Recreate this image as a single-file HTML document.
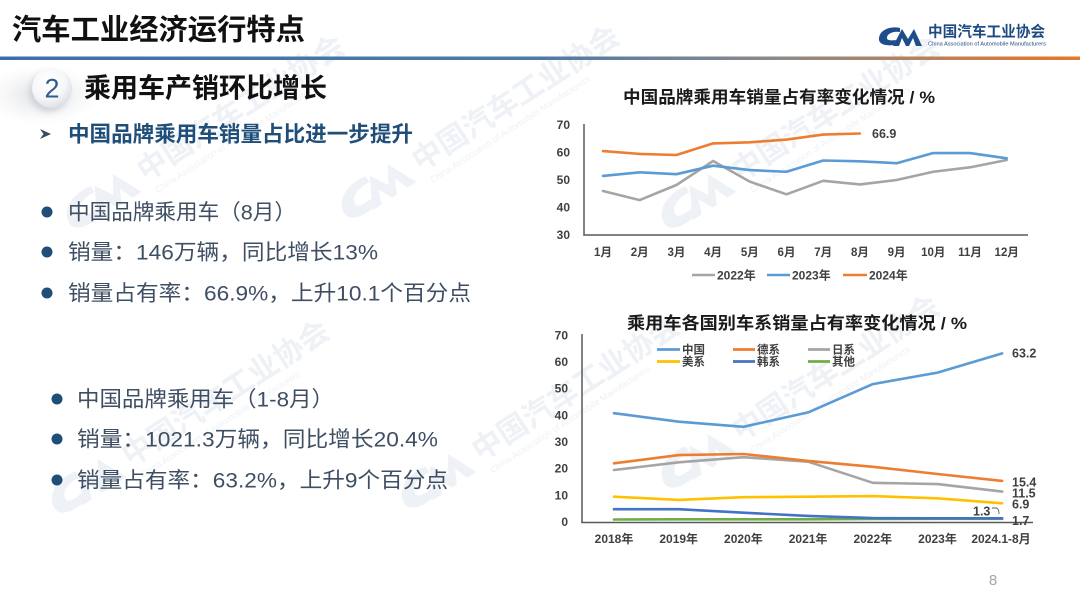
<!DOCTYPE html>
<html><head><meta charset="utf-8"><style>
html,body{margin:0;padding:0;background:#fff;}
svg{display:block;}
text{font-family:"Liberation Sans","Noto Sans CJK SC",sans-serif;}
</style></head><body>
<svg width="1080" height="607" viewBox="0 0 1080 607" xmlns="http://www.w3.org/2000/svg">
<defs>
<linearGradient id="bar" x1="0" y1="0" x2="1" y2="0">
<stop offset="0" stop-color="#3a70aa"/><stop offset="0.5" stop-color="#4f7aa6"/>
<stop offset="0.72" stop-color="#8c8a88"/><stop offset="1" stop-color="#e6782a"/>
</linearGradient>
<radialGradient id="ball" cx="0.4" cy="0.35" r="0.7">
<stop offset="0" stop-color="#ffffff"/><stop offset="0.6" stop-color="#f6f7f9"/><stop offset="1" stop-color="#d9dde3"/>
</radialGradient>
<radialGradient id="shade" cx="0.5" cy="0.5" r="0.5">
<stop offset="0" stop-color="#d4d6da" stop-opacity="0.75"/><stop offset="1" stop-color="#e8e9eb" stop-opacity="0"/>
</radialGradient>
<filter id="blur" x="-50%" y="-50%" width="200%" height="200%"><feGaussianBlur stdDeviation="3"/></filter>
</defs>
<rect width="1080" height="607" fill="#fff"/>

<!-- watermarks -->
<g fill="#eef1f5" font-weight="bold">
<g transform="translate(75,235) rotate(-33)">
<g transform="scale(1.8) translate(0,-20)"><path d="M22,2 C14,0 2,3 1,12 C0,19 10,20 16,19 L18,14 C12,15 8,14 9,11 C10,7 16,5 22,6 Z"/><path d="M15,20 L24,3 L30,13 L36,3 L44,20 L38,20 L35,12 L31,20 L28,20 L24,12 L21,20 Z"/></g>
<text x="88" y="-6" font-size="30">中国汽车工业协会</text>
<text x="92" y="10" font-size="9" font-weight="normal">China Association of Automobile Manufacturers</text></g>
<g transform="translate(350,225) rotate(-33)">
<g transform="scale(1.8) translate(0,-20)"><path d="M22,2 C14,0 2,3 1,12 C0,19 10,20 16,19 L18,14 C12,15 8,14 9,11 C10,7 16,5 22,6 Z"/><path d="M15,20 L24,3 L30,13 L36,3 L44,20 L38,20 L35,12 L31,20 L28,20 L24,12 L21,20 Z"/></g>
<text x="88" y="-6" font-size="30">中国汽车工业协会</text>
<text x="92" y="10" font-size="9" font-weight="normal">China Association of Automobile Manufacturers</text></g>
<g transform="translate(670,235) rotate(-33)">
<g transform="scale(1.8) translate(0,-20)"><path d="M22,2 C14,0 2,3 1,12 C0,19 10,20 16,19 L18,14 C12,15 8,14 9,11 C10,7 16,5 22,6 Z"/><path d="M15,20 L24,3 L30,13 L36,3 L44,20 L38,20 L35,12 L31,20 L28,20 L24,12 L21,20 Z"/></g>
<text x="88" y="-6" font-size="30">中国汽车工业协会</text>
<text x="92" y="10" font-size="9" font-weight="normal">China Association of Automobile Manufacturers</text></g>
<g transform="translate(60,520) rotate(-33)">
<g transform="scale(1.8) translate(0,-20)"><path d="M22,2 C14,0 2,3 1,12 C0,19 10,20 16,19 L18,14 C12,15 8,14 9,11 C10,7 16,5 22,6 Z"/><path d="M15,20 L24,3 L30,13 L36,3 L44,20 L38,20 L35,12 L31,20 L28,20 L24,12 L21,20 Z"/></g>
<text x="88" y="-6" font-size="30">中国汽车工业协会</text>
<text x="92" y="10" font-size="9" font-weight="normal">China Association of Automobile Manufacturers</text></g>
<g transform="translate(410,515) rotate(-33)">
<g transform="scale(1.8) translate(0,-20)"><path d="M22,2 C14,0 2,3 1,12 C0,19 10,20 16,19 L18,14 C12,15 8,14 9,11 C10,7 16,5 22,6 Z"/><path d="M15,20 L24,3 L30,13 L36,3 L44,20 L38,20 L35,12 L31,20 L28,20 L24,12 L21,20 Z"/></g>
<text x="88" y="-6" font-size="30">中国汽车工业协会</text>
<text x="92" y="10" font-size="9" font-weight="normal">China Association of Automobile Manufacturers</text></g>
<g transform="translate(670,495) rotate(-33)">
<g transform="scale(1.8) translate(0,-20)"><path d="M22,2 C14,0 2,3 1,12 C0,19 10,20 16,19 L18,14 C12,15 8,14 9,11 C10,7 16,5 22,6 Z"/><path d="M15,20 L24,3 L30,13 L36,3 L44,20 L38,20 L35,12 L31,20 L28,20 L24,12 L21,20 Z"/></g>
<text x="88" y="-6" font-size="30">中国汽车工业协会</text>
<text x="92" y="10" font-size="9" font-weight="normal">China Association of Automobile Manufacturers</text></g>
</g>

<!-- header -->
<text x="12" y="39.5" font-size="29" font-weight="bold" fill="#111" textLength="293" lengthAdjust="spacingAndGlyphs">汽车工业经济运行特点</text>
<rect x="0" y="56.5" width="1080" height="3.5" fill="url(#bar)"/>
<g fill="#1d4e89" transform="translate(878,26)">
<path d="M22,2 C14,0 2,3 1,12 C0,19 10,20 16,19 L18,14 C12,15 8,14 9,11 C10,7 16,5 22,6 Z"/>
<path d="M15,20 L24,3 L30,13 L36,3 L44,20 L38,20 L35,12 L31,20 L28,20 L24,12 L21,20 Z"/>
</g>
<text x="928" y="36.5" font-size="15" font-weight="bold" fill="#1e4a82" textLength="117" lengthAdjust="spacingAndGlyphs">中国汽车工业协会</text>
<text x="928" y="45.5" font-size="5" fill="#1e4a82" textLength="118" lengthAdjust="spacingAndGlyphs">China Association of Automobile Manufacturers</text>

<!-- section heading -->
<ellipse cx="42" cy="95" rx="58" ry="30" fill="url(#shade)"/>
<circle cx="49" cy="92" r="20" fill="#c9cdd3" filter="url(#blur)" opacity="0.8"/>
<circle cx="52" cy="88" r="20" fill="url(#ball)"/>
<text x="52" y="97.7" font-size="27" fill="#2f5b8c" text-anchor="middle">2</text>
<text x="84" y="97.7" font-size="27" font-weight="bold" fill="#111" textLength="243" lengthAdjust="spacingAndGlyphs">乘用车产销环比增长</text>
<polygon points="40,129 51,134 40,139 43.5,134" fill="#3a4a60"/>
<text x="68" y="141.7" font-size="21.5" font-weight="bold" fill="#1f4e79" textLength="345" lengthAdjust="spacingAndGlyphs">中国品牌乘用车销量占比进一步提升</text>

<!-- bullets -->
<g fill="#1f4e79"><circle cx="47" cy="212" r="5.5"/><circle cx="47" cy="252" r="5.5"/><circle cx="47" cy="293" r="5.5"/>
<circle cx="57" cy="399" r="5.5"/><circle cx="57" cy="439" r="5.5"/><circle cx="57" cy="480" r="5.5"/></g>
<g font-size="21.5" fill="#3f4f63">
<text x="68" y="219.7" textLength="228" lengthAdjust="spacingAndGlyphs">中国品牌乘用车（8月）</text>
<text x="68" y="259.7" textLength="310" lengthAdjust="spacingAndGlyphs">销量：146万辆，同比增长13%</text>
<text x="68" y="300.7" textLength="403" lengthAdjust="spacingAndGlyphs">销量占有率：66.9%，上升10.1个百分点</text>
<text x="77" y="406.7" textLength="257" lengthAdjust="spacingAndGlyphs">中国品牌乘用车（1-8月）</text>
<text x="77" y="446.7" textLength="361" lengthAdjust="spacingAndGlyphs">销量：1021.3万辆，同比增长20.4%</text>
<text x="77" y="487.7" textLength="371" lengthAdjust="spacingAndGlyphs">销量占有率：63.2%，上升9个百分点</text>
</g>

<!-- chart 1 -->
<text x="623" y="103" font-size="17" font-weight="bold" fill="#1a1a1a" textLength="312" lengthAdjust="spacingAndGlyphs">中国品牌乘用车销量占有率变化情况 / %</text>
<g font-size="12" font-weight="bold" fill="#404040" text-anchor="end">
<text x="570" y="129">70</text><text x="570" y="156.5">60</text><text x="570" y="184">50</text><text x="570" y="211.5">40</text><text x="570" y="239">30</text>
</g>
<line x1="584" y1="124" x2="584" y2="235.5" stroke="#595959" stroke-width="1.5"/>
<line x1="583.3" y1="235" x2="1028" y2="235" stroke="#595959" stroke-width="1.5"/>
<g font-size="11.5" font-weight="bold" fill="#404040" text-anchor="middle">
<text x="603" y="256">1月</text><text x="639.7" y="256">2月</text><text x="676.4" y="256">3月</text><text x="713.1" y="256">4月</text><text x="749.8" y="256">5月</text><text x="786.5" y="256">6月</text><text x="823.2" y="256">7月</text><text x="859.9" y="256">8月</text><text x="896.6" y="256">9月</text><text x="933.3" y="256">10月</text><text x="970" y="256">11月</text><text x="1006.7" y="256">12月</text>
</g>
<g fill="none" stroke-width="2.6" stroke-linejoin="round" stroke-linecap="round">
<polyline stroke="#a5a5a5" points="603,191 639.7,200.1 676.4,185 713.1,161 749.8,181.65 786.5,194.3 823.2,180.8 859.9,184.4 896.6,180 933.3,171.75 970,167.35 1006.7,160"/>
<polyline stroke="#5b9bd5" points="603,175.9 639.7,172.3 676.4,174.2 713.1,165.7 749.8,170.1 786.5,171.75 823.2,160.5 859.9,161.3 896.6,163.2 933.3,153.05 970,153.05 1006.7,158.3"/>
<polyline stroke="#ed7d31" points="603,151.1 639.7,153.9 676.4,155 713.1,143.4 749.8,142.3 786.5,139.6 823.2,134.6 859.9,133.5"/>
</g>
<text x="872" y="138" font-size="12.5" font-weight="bold" fill="#404040">66.9</text>
<g stroke-width="2.6">
<line x1="692" y1="275" x2="715" y2="275" stroke="#a5a5a5"/>
<line x1="767" y1="275" x2="790" y2="275" stroke="#5b9bd5"/>
<line x1="843" y1="275" x2="867" y2="275" stroke="#ed7d31"/>
</g>
<g font-size="12" font-weight="bold" fill="#404040">
<text x="717" y="279.3">2022年</text><text x="792" y="279.3">2023年</text><text x="869" y="279.3">2024年</text>
</g>

<!-- chart 2 -->
<text x="627" y="329" font-size="17" font-weight="bold" fill="#1a1a1a" textLength="340" lengthAdjust="spacingAndGlyphs">乘用车各国别车系销量占有率变化情况 / %</text>
<g font-size="12" font-weight="bold" fill="#404040" text-anchor="end">
<text x="568" y="339.5">70</text><text x="568" y="366">60</text><text x="568" y="392.7">50</text><text x="568" y="419.3">40</text><text x="568" y="446">30</text><text x="568" y="472.7">20</text><text x="568" y="499.3">10</text><text x="568" y="526">0</text>
</g>
<line x1="582" y1="334" x2="582" y2="523" stroke="#595959" stroke-width="1.5"/>
<g fill="none" stroke-width="2.6" stroke-linejoin="round" stroke-linecap="round">
<polyline stroke="#70ad47" points="614,519.5 678.7,519.3 743.4,519.3 808.1,519.3 872.8,519 937.5,518.8 1002.2,518.8"/>
<polyline stroke="#4472c4" points="614,509.2 678.7,509.2 743.4,512.7 808.1,515.9 872.8,518.1 937.5,518.3 1002.2,518.3"/>
<polyline stroke="#ffc000" points="614,496.7 678.7,499.9 743.4,497.2 808.1,496.7 872.8,496.1 937.5,498.3 1002.2,503.3"/>
<polyline stroke="#a5a5a5" points="614,470 678.7,462.3 743.4,457.2 808.1,461.7 872.8,482.8 937.5,484.1 1002.2,491.6"/>
<polyline stroke="#ed7d31" points="614,463.3 678.7,455.1 743.4,454 808.1,460.9 872.8,466.8 937.5,474 1002.2,480.9"/>
<polyline stroke="#5b9bd5" points="614,413.2 678.7,421.7 743.4,426.8 808.1,412.4 872.8,384.1 937.5,372.6 1002.2,353.4"/>
</g>
<line x1="581.3" y1="522.5" x2="1033" y2="522.5" stroke="#595959" stroke-width="1.5"/>
<g stroke-width="2.8">
<line x1="657" y1="349.5" x2="680" y2="349.5" stroke="#5b9bd5"/>
<line x1="733" y1="349.5" x2="755" y2="349.5" stroke="#ed7d31"/>
<line x1="808" y1="349.5" x2="830" y2="349.5" stroke="#a5a5a5"/>
<line x1="657" y1="361.5" x2="680" y2="361.5" stroke="#ffc000"/>
<line x1="733" y1="361.5" x2="755" y2="361.5" stroke="#4472c4"/>
<line x1="808" y1="361.5" x2="830" y2="361.5" stroke="#70ad47"/>
</g>
<g font-size="11.5" font-weight="bold" fill="#404040">
<text x="682" y="353.6">中国</text><text x="757" y="353.6">德系</text><text x="832" y="353.6">日系</text>
<text x="682" y="365.6">美系</text><text x="757" y="365.6">韩系</text><text x="832" y="365.6">其他</text>
</g>
<g font-size="12" font-weight="bold" fill="#404040" text-anchor="middle">
<text x="614" y="543">2018年</text><text x="678.7" y="543">2019年</text><text x="743.4" y="543">2020年</text><text x="808.1" y="543">2021年</text><text x="872.8" y="543">2022年</text><text x="937.5" y="543">2023年</text><text x="1001" y="543">2024.1-8月</text>
</g>
<g font-size="12.5" font-weight="bold" fill="#404040">
<text x="1012" y="357.5">63.2</text>
<text x="1012" y="486.5">15.4</text>
<text x="1012" y="497.5">11.5</text>
<text x="1012" y="508.5">6.9</text>
<text x="973" y="515.5">1.3</text>
<text x="1012" y="525">1.7</text>
</g>
<path d="M992,508 L996.5,508 Q999,509 999,514" fill="none" stroke="#595959" stroke-width="0.9"/>

<text x="993" y="585" font-size="15" fill="#a6a6a6" text-anchor="middle">8</text>
</svg>
</body></html>
